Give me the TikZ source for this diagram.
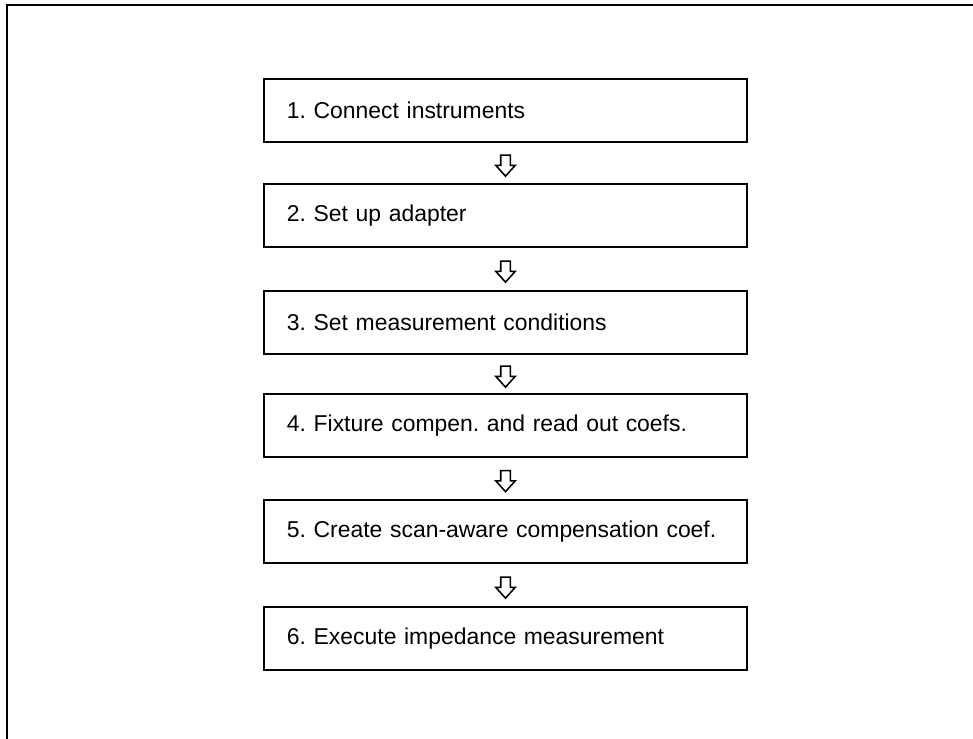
\documentclass[tikz,border=0pt]{standalone}
\usepackage{fontspec}
\setmainfont{Liberation Sans}
\usepackage{tikz}
\usetikzlibrary{positioning,calc,shapes.arrows}
\frenchspacing

\begin{document}
\begin{tikzpicture}[
  x=0.025cm, y=-0.025cm,
  frame/.style={draw, line width=1.5pt},
  stepbox/.style={draw, line width=1.4pt, minimum width=12.075cm, minimum height=1.575cm,
    inner xsep=0.575cm, text width=10.925cm, align=left, font=\fontsize{16.3}{19}\selectfont},
  downarr/.style={draw, line width=1.1pt, single arrow, shape border rotate=270, inner sep=0.1cm,
    minimum width=0.45cm, minimum height=0.525cm, single arrow head extend=0.125cm,
    single arrow tip angle=84}
]
\useasboundingbox (0,0) rectangle (973,738);
\draw[frame] (7,740) |- (975,5);

\node[stepbox] (s1) at (505.5,110.5) {1. Connect instruments};
\node[stepbox] (s2) at (505.5,215.5) {2. Set up adapter};
\node[stepbox] (s3) at (505.5,322.5) {3. Set measurement conditions};
\node[stepbox] (s4) at (505.5,425.5) {4. Fixture compen. and read out coefs.};
\node[stepbox] (s5) at (505.5,531.5) {5. Create scan-aware compensation coef.};
\node[stepbox] (s6) at (505.5,638.5) {6. Execute impedance measurement};

% arrows between the steps
\node[downarr] (a12) at ($(s1.south)!0.5!(s2.north)$) {};
\node[downarr] (a23) at ($(s2.south)!0.5!(s3.north)$) {};
\node[downarr] (a34) at ($(s3.south)!0.5!(s4.north)$) {};
\node[downarr] (a45) at ($(s4.south)!0.5!(s5.north)$) {};
\node[downarr] (a56) at ($(s5.south)!0.5!(s6.north)$) {};
\end{tikzpicture}
\end{document}
